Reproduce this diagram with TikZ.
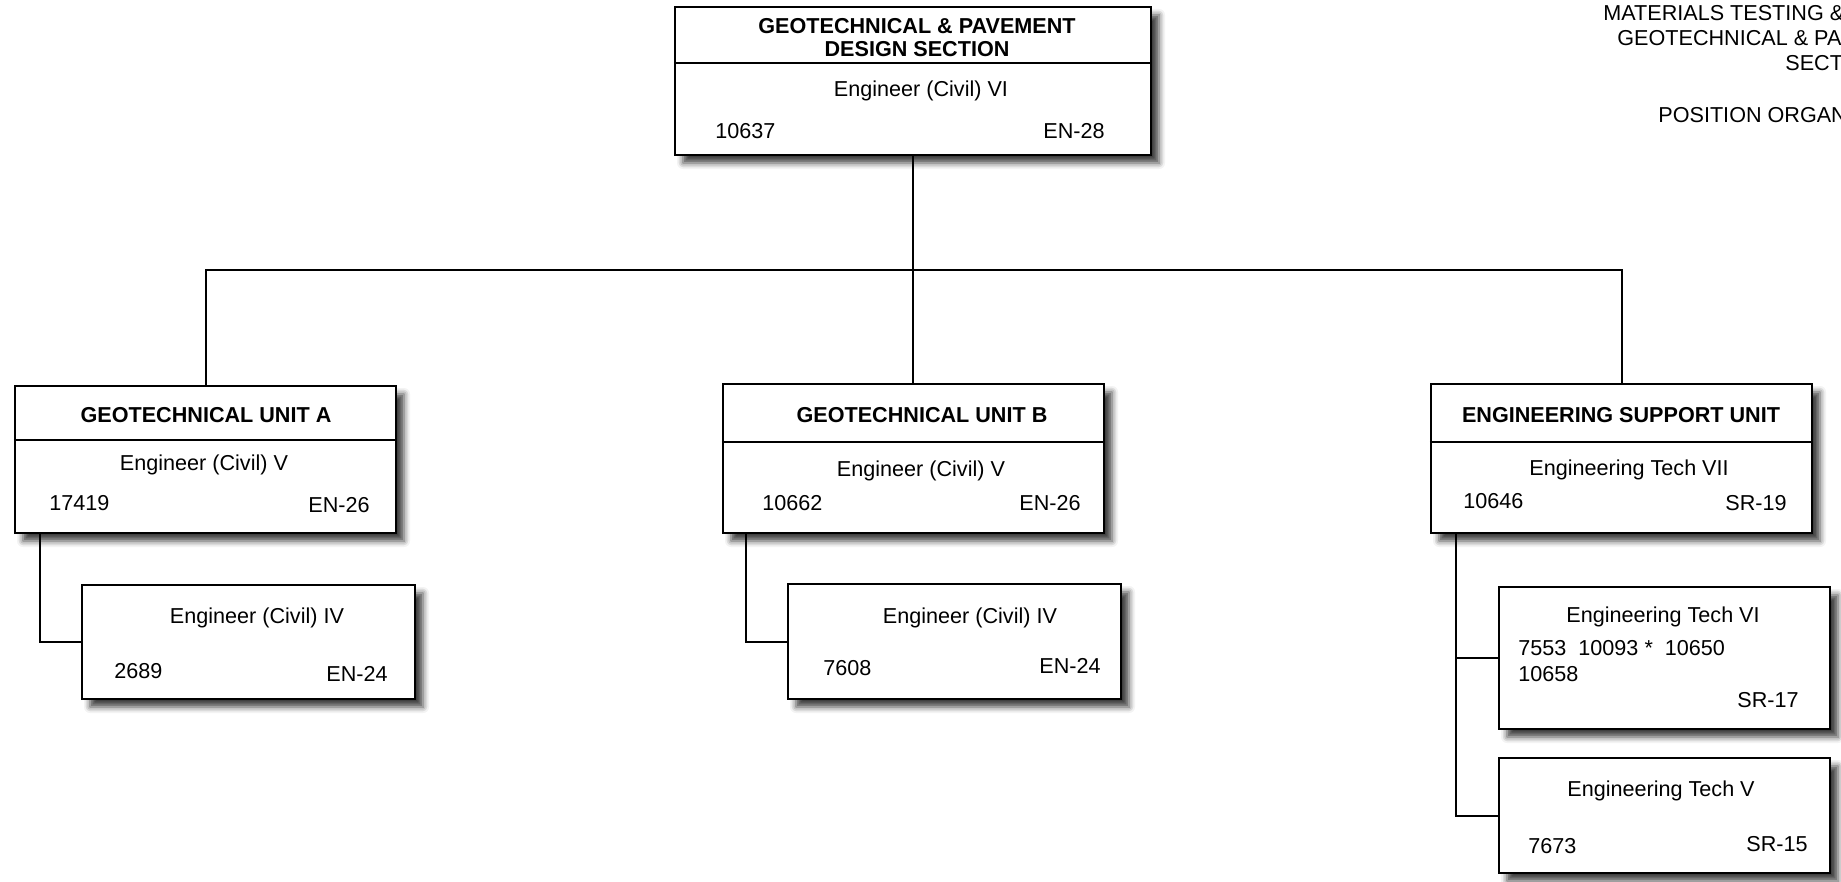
\documentclass[tikz,border=0pt]{standalone}
\usepackage{fontspec}
\setmainfont{Liberation Sans}
\usetikzlibrary{shadows.blur}

\begin{document}
\begin{tikzpicture}[
          x=0.5pt, y=-0.5pt,
          font=\fontsize{10.8}{13}\selectfont,
          posbox/.style={
              draw=black,
              fill=white,
              line width=1.25pt,
              inner sep=0pt,
              blur shadow={shadow xshift=4pt, shadow yshift=-4pt,
                shadow blur radius=3pt, shadow opacity=75}
            },
          divider/.style={black, line width=0.7pt},
          link/.style={black, line width=1pt},
          title/.style={anchor=base, inner sep=0pt, font=\fontsize{10.8}{13}\selectfont\bfseries},
          job/.style={anchor=base, inner sep=0pt},
          posno/.style={anchor=base west, inner sep=0pt},
          grade/.style={anchor=base east, inner sep=0pt}
        ]
        \useasboundingbox (0,0) rectangle (1841,882);

        \node[posno] (hdr1) at (1603,21) {MATERIALS TESTING \&};
        \node[posno] (hdr2) at (1617,46) {GEOTECHNICAL \& PA};
        \node[posno] (hdr3) at (1785,71) {SECT};
        \node[posno] (hdr4) at (1658,123) {POSITION ORGAN};

        \node[posbox, minimum width=238pt, minimum height=74pt] (section) at (913,81) {};
        \draw[divider] (section.west |- 0,63) -- (section.east |- 0,63);
        \node[title] (section_t1) at (917,34) {GEOTECHNICAL \& PAVEMENT};
        \node[title] (section_t2) at (917,57) {DESIGN SECTION};
        \node[job] (section_job) at (921,97) {Engineer (Civil) VI};
        \node[posno] (section_no) at (715,139) {10637};
        \node[grade] (section_gr) at (1105,139) {EN-28};

        \node[posbox, minimum width=190.5pt, minimum height=73.5pt] (unit_a) at (205.5,459.5) {};
        \draw[divider] (unit_a.west |- 0,440) -- (unit_a.east |- 0,440);
        \node[title] (unit_a_t) at (206,422) {GEOTECHNICAL UNIT A};
        \node[job] (unit_a_job) at (204,470) {Engineer (Civil) V};
        \node[posno] (unit_a_no) at (49,510) {17419};
        \node[grade] (unit_a_gr) at (370,512) {EN-26};

        \node[posbox, minimum width=190.5pt, minimum height=74.5pt] (unit_b) at (913.5,458.5) {};
        \draw[divider] (unit_b.west |- 0,442) -- (unit_b.east |- 0,442);
        \node[title] (unit_b_t) at (922,422) {GEOTECHNICAL UNIT B};
        \node[job] (unit_b_job) at (921,476) {Engineer (Civil) V};
        \node[posno] (unit_b_no) at (762,510) {10662};
        \node[grade] (unit_b_gr) at (1081,510) {EN-26};

        \node[posbox, minimum width=190.5pt, minimum height=74.5pt] (esu) at (1621.5,458.5) {};
        \draw[divider] (esu.west |- 0,442) -- (esu.east |- 0,442);
        \node[title] (esu_t) at (1621,422) {ENGINEERING SUPPORT UNIT};
        \node[job] (esu_job) at (1629,475) {Engineering Tech VII};
        \node[posno] (esu_no) at (1463,508) {10646};
        \node[grade] (esu_gr) at (1787,510) {SR-19};

        \node[posbox, minimum width=166.5pt, minimum height=57pt] (sub_a) at (248.5,642) {};
        \node[job] (sub_a_job) at (257,623) {Engineer (Civil) IV};
        \node[posno] (sub_a_no) at (114,678) {2689};
        \node[grade] (sub_a_gr) at (388,681) {EN-24};

        \node[posbox, minimum width=166.5pt, minimum height=57.5pt] (sub_b) at (954.5,641.5) {};
        \node[job] (sub_b_job) at (970,623) {Engineer (Civil) IV};
        \node[posno] (sub_b_no) at (823,675) {7608};
        \node[grade] (sub_b_gr) at (1101,673) {EN-24};

        \node[posbox, minimum width=165.5pt, minimum height=71pt] (tech_vi) at (1664.5,658) {};
        \node[job] (tech_vi_job) at (1663,622) {Engineering Tech VI};
        \node[posno] (tech_vi_no1) at (1518,655) {7553\ \ 10093 *\ \ 10650};
        \node[posno] (tech_vi_no2) at (1518,681) {10658};
        \node[grade] (tech_vi_gr) at (1799,707) {SR-17};

        \node[posbox, minimum width=165.5pt, minimum height=57.5pt] (tech_v) at (1664.5,815.5) {};
        \node[job] (tech_v_job) at (1661,796) {Engineering Tech V};
        \node[posno] (tech_v_no) at (1528,853) {7673};
        \node[grade] (tech_v_gr) at (1808,851) {SR-15};

        \coordinate (bus) at (section.south |- 0,270);
        \draw[link] (section.south) -- (bus);
        \draw[link] (unit_a.north) |- (bus) -| (esu.north);
        \draw[link] (bus) -- (bus |- unit_b.north);

        \coordinate (unit_a_tap) at ([xshift=13pt]unit_a.south west);
        \coordinate (unit_b_tap) at ([xshift=12pt]unit_b.south west);
        \coordinate (esu_tap) at ([xshift=13pt]esu.south west);
        \draw[link] (unit_a_tap) |- (sub_a.west);
        \draw[link] (unit_b_tap) |- (sub_b.west);
        \draw[link] (esu_tap) |- (tech_v.west);
        \draw[link] (esu_tap |- tech_vi.west) -- (tech_vi.west);
      \end{tikzpicture}
\end{document}
